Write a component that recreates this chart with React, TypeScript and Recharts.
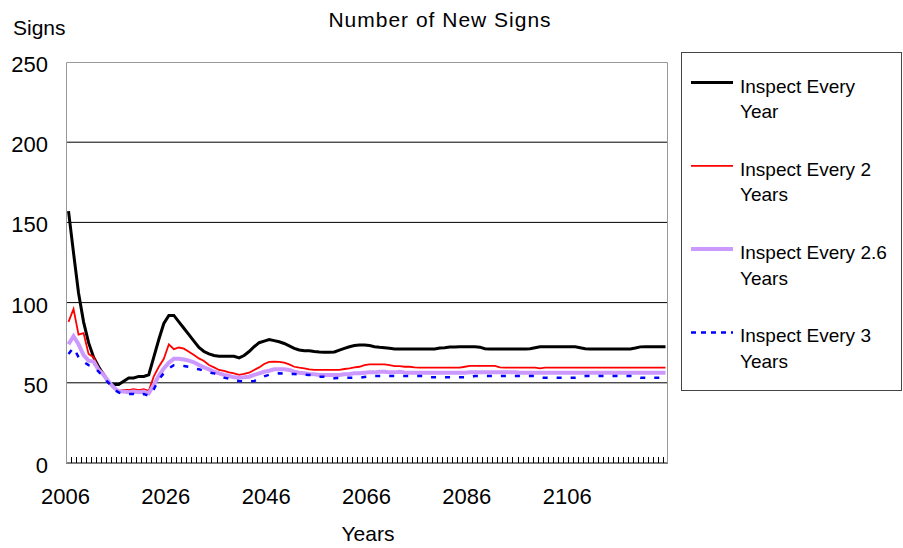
import { LineChart, Line, XAxis, YAxis, CartesianGrid } from 'recharts';

// categories: one per year, 2006..2125
const YEARS = Array.from({ length: 120 }, (_, i) => 2006 + i);
const LABEL_YEARS = [2006, 2026, 2046, 2066, 2086, 2106];
const Y_TICKS = [0, 50, 100, 150, 200, 250];

const EVERY_YEAR = [
  157, 131, 106, 88, 75, 66, 60, 55, 50, 49,
  49, 51, 53, 53, 54, 54, 55, 66, 77, 87,
  92, 92, 88, 84, 80, 76, 72, 69.5, 68, 67,
  66.5, 66.5, 66.5, 66.5, 65.5, 67, 69.5, 72.5, 75, 76,
  77, 76.3, 75.6, 74.5, 73, 71.5, 70.5, 70, 70, 69.5,
  69.2, 69, 69, 69.2, 70.4, 71.5, 72.5, 73.2, 73.6, 73.6,
  73.2, 72.5, 72.1, 71.9, 71.5, 71.1, 71.1, 71.1, 71.1, 71.1,
  71.1, 71.1, 71.1, 71.1, 71.7, 71.9, 72.3, 72.3, 72.5, 72.5,
  72.5, 72.4, 72.2, 71.2, 71.1, 71.1, 71.1, 71.1, 71.1, 71.1,
  71.1, 71.1, 71.2, 71.8, 72.4, 72.5, 72.5, 72.5, 72.5, 72.5,
  72.5, 72.4, 71.8, 71.2, 71.1, 71.1, 71.1, 71.1, 71.1, 71.1,
  71.1, 71.1, 71.1, 71.7, 72.4, 72.5, 72.5, 72.5, 72.5, 72.5,
];

const EVERY_2 = [
  88, 96, 80, 81, 68, 66, 59, 56, 51, 47,
  45, 45.5, 45.5, 46, 45.5, 46, 45, 54, 60, 65,
  74, 71, 72, 71.3, 69.4, 67.3, 65.2, 63.6, 61.1, 59.6,
  58, 57.4, 56.5, 55.9, 54.9, 55.5, 56.3, 58, 59.6, 61.7,
  63, 63.2, 63, 62.6, 61.5, 60, 59.4, 59, 58.4, 58,
  58, 58, 58, 58, 58, 58.6, 59, 59.6, 60, 61,
  61.5, 61.5, 61.5, 61.5, 61, 60.4, 60.4, 60, 60, 59.6,
  59.4, 59.4, 59.4, 59.4, 59.4, 59.4, 59.4, 59.4, 59.4, 60,
  60.5, 60.5, 60.5, 60.5, 60.5, 60.5, 59.6, 59.4, 59.4, 59.4,
  59.4, 59.4, 59.4, 59.4, 59, 59.4, 59.4, 59.4, 59.4, 59.4,
  59.4, 59.4, 59.4, 59.4, 59.4, 59.4, 59.4, 59.4, 59.4, 59.4,
  59.4, 59.4, 59.4, 59.4, 59.4, 59.4, 59.4, 59.4, 59.4, 59.4,
];

const EVERY_2_6 = [
  74, 79, 74, 67.3, 63.8, 63.2, 58, 55, 50.7, 47.2,
  44.5, 44.5, 44.1, 44.5, 44.1, 44.5, 43.4, 48.6, 54.4, 59,
  62.5, 65, 65, 64.5, 63.8, 62.8, 61.1, 59.6, 58.4, 56.9,
  55.9, 54.9, 54.2, 53.4, 53.2, 53.4, 53.8, 54.9, 55.9, 56.9,
  57.5, 58.4, 58.4, 58.4, 58, 56.9, 56.3, 55.9, 55.5, 55.3,
  54.9, 54.9, 54.9, 54.9, 54.9, 55.3, 55.5, 55.9, 55.9, 56.3,
  56.5, 56.5, 56.9, 56.9, 56.5, 56.5, 56.9, 56.5, 56.3, 56.3,
  56.3, 56.3, 56.3, 56.3, 56.3, 56.3, 56.3, 56.3, 56.3, 56.3,
  56.5, 56.5, 56.5, 56.5, 56.5, 56.5, 56.5, 56.5, 56.5, 56.5,
  56.3, 56.3, 56.3, 56.3, 56.3, 56.3, 56.3, 56.3, 56.3, 56.3,
  56.3, 56.3, 56.3, 56.3, 56.3, 56.3, 56.3, 56.3, 56.3, 56.3,
  56.3, 56.3, 56.3, 56.3, 56.3, 56.3, 56.3, 56.3, 56.3, 56.3,
];

const EVERY_3 = [
  68, 72, 66, 63, 61, 60, 57, 53, 50, 46,
  44, 43, 43, 43, 42, 43, 42, 46, 52, 56,
  59, 61, 61, 60.5, 60, 59, 58.4, 57.5, 56.5, 55.9,
  54.5, 53.2, 52.5, 51.5, 51.1, 51, 51, 51.1, 52.5, 54,
  55, 55.5, 55.9, 55.7, 55.5, 55.5, 55.2, 55, 54.9, 54.5,
  53.8, 53.8, 53.2, 52.8, 53, 53.2, 53.2, 53.2, 53.2, 53.6,
  54, 54.2, 54.2, 54.2, 54.2, 54.2, 54.2, 54.2, 54.2, 54.2,
  54.2, 54.2, 53.4, 53.4, 53.4, 53.4, 53.4, 53.4, 53.4, 53.4,
  53.4, 54.2, 54.2, 54.2, 54.2, 54.2, 54.2, 54.2, 54.2, 54.2,
  54.2, 54.2, 54.2, 54.2, 53.2, 53.2, 53.2, 53.2, 53.2, 53.2,
  53.2, 53.2, 53.8, 54.2, 54.2, 54.2, 54.2, 54.2, 54.2, 54.2,
  54.2, 54.2, 54.2, 54.2, 53.2, 53.2, 53.2, 53.2, 53.2, 53.2,
];

const SERIES = [
  { key: 'y1', lines: ['Inspect Every', 'Year'], color: '#000000', width: 3, dash: undefined, legendDash: undefined },
  { key: 'y2', lines: ['Inspect Every 2', 'Years'], color: '#ff0000', width: 1.8, dash: undefined, legendDash: undefined },
  { key: 'y26', lines: ['Inspect Every 2.6', 'Years'], color: '#cc99ff', width: 4, dash: undefined, legendDash: undefined },
  { key: 'y3', lines: ['Inspect Every 3', 'Years'], color: '#0000ff', width: 2.5, dash: '5 9', legendDash: '5 5' },
];

const data = YEARS.map((year, i) => ({
  year,
  y1: EVERY_YEAR[i],
  y2: EVERY_2[i],
  y26: EVERY_2_6[i],
  y3: EVERY_3[i],
}));

const FONT = '"Liberation Sans", Arial, sans-serif';
const PLOT_LEFT = 66;
const PLOT_RIGHT = 668;
const PLOT_TOP = 62;
const PLOT_BOTTOM = 463;
const HALF_BAND = (PLOT_RIGHT - PLOT_LEFT) / YEARS.length / 2;

const YearTick = (props: any) => {
  const { x, y, payload } = props;
  const mark = Math.round(x - HALF_BAND) + 0.5;
  return (
    <g>
      <line x1={mark} x2={mark} y1={y} y2={y - 6} stroke="#000" strokeWidth={1} />
      {LABEL_YEARS.includes(payload.value) && (
        <text x={x - 3} y={y + 41} textAnchor="middle" fontSize={22} fontFamily={FONT} fill="#000">
          {payload.value}
        </text>
      )}
    </g>
  );
};

const SignTick = (props: any) => {
  const { x, y, payload } = props;
  return (
    <text x={x} y={y + 10} textAnchor="end" fontSize={22} fontFamily={FONT} fill="#000">
      {payload.value}
    </text>
  );
};

export default function App() {
  return (
    <div style={{ position: 'absolute', left: 0, top: 0, width: 903, height: 548, background: '#fff' }}>
      <LineChart
        width={903}
        height={548}
        data={data}
        margin={{ top: PLOT_TOP, right: 903 - PLOT_RIGHT, bottom: 0, left: 0 }}
      >
        <CartesianGrid horizontal vertical={false} horizontalValues={[50, 100, 150, 200]} stroke="#000" />
        <XAxis
          dataKey="year"
          type="number"
          domain={[2005.5, 2125.5]}
          ticks={YEARS}
          interval={0}
          height={548 - PLOT_BOTTOM}
          tickSize={0}
          tickMargin={0}
          tickLine={false}
          axisLine={{ stroke: '#000', strokeWidth: 1 }}
          tick={<YearTick />}
        />
        <YAxis
          type="number"
          domain={[0, 250]}
          ticks={Y_TICKS}
          interval={0}
          width={PLOT_LEFT}
          tickSize={0}
          tickMargin={18}
          tickLine={false}
          axisLine={false}
          tick={<SignTick />}
        />
        {SERIES.map((s) => (
          <Line
            key={s.key}
            dataKey={s.key}
            type="linear"
            stroke={s.color}
            strokeWidth={s.width}
            strokeDasharray={s.dash}
            dot={false}
            activeDot={false}
            isAnimationActive={false}
          />
        ))}
      </LineChart>
      <svg
        width={903}
        height={548}
        style={{ position: 'absolute', left: 0, top: 0, pointerEvents: 'none' }}
        fontFamily={FONT}
      >
        <path
          d={`M${PLOT_LEFT + 0.5},${PLOT_BOTTOM} V${PLOT_TOP + 0.5} H${PLOT_RIGHT - 0.5} V${PLOT_BOTTOM}`}
          fill="none"
          stroke="#999"
          strokeWidth={1}
        />
        <text x={440} y={27} textAnchor="middle" fontSize={21} letterSpacing={1} fill="#000">
          Number of New Signs
        </text>
        <text x={13} y={35} fontSize={21} fill="#000">Signs</text>
        <text x={368} y={541} textAnchor="middle" fontSize={21} fill="#000">Years</text>
        <rect x={681.5} y={52.5} width={220} height={338} fill="#fff" stroke="#444" strokeWidth={1} />
        {SERIES.map((s, i) => {
          const cy = 82.5 + i * 83.3;
          return (
            <g key={s.key}>
              <line
                x1={691}
                x2={733}
                y1={cy}
                y2={cy}
                stroke={s.color}
                strokeWidth={s.width}
                strokeDasharray={s.legendDash}
              />
              <text x={740} y={cy + 10} fontSize={19} fill="#000">{s.lines[0]}</text>
              <text x={740} y={cy + 35.5} fontSize={19} fill="#000">{s.lines[1]}</text>
            </g>
          );
        })}
      </svg>
    </div>
  );
}
